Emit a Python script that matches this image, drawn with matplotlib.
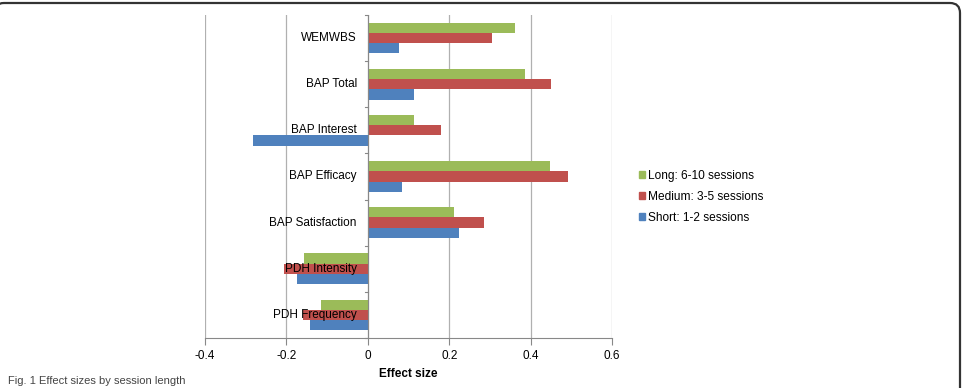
import matplotlib

matplotlib.use("Agg")
import matplotlib.pyplot as plt
import numpy as np
from matplotlib.patches import FancyBboxPatch, Patch

# outcome measures, bottom to top
categories = ["PDH Frequency", "PDH Intensity", "BAP Satisfaction", "BAP Efficacy",
              "BAP Interest", "BAP Total", "WEMWBS"]
short_vals = [-0.141, -0.174, 0.224, 0.084, -0.282, 0.114, 0.077]
medium_vals = [-0.160, -0.206, 0.286, 0.493, 0.181, 0.451, 0.304]
long_vals = [-0.115, -0.157, 0.211, 0.448, 0.114, 0.386, 0.361]
series_labels = ["Short: 1-2 sessions", "Medium: 3-5 sessions", "Long: 6-10 sessions"]
x_ticks = [-0.4, -0.2, 0, 0.2, 0.4, 0.6]
x_ticklabels = ["-0.4", "-0.2", "0", "0.2", "0.4", "0.6"]

colors = ["#4F81BD", "#C0504D", "#9BBB59"]

plt.rcParams["font.family"] = ["Liberation Sans", "DejaVu Sans"]

fig = plt.figure(figsize=(9.63, 3.88), dpi=100)
ax = fig.add_axes([0.2129, 0.1289, 0.4226, 0.8325])

n = len(categories)
y = np.arange(n)
h = 1 / 4.5
for i, (vals, c) in enumerate(zip([short_vals, medium_vals, long_vals], colors)):
    ax.barh(y + (i - 1) * h, vals, height=h, color=c, zorder=2)

ax.set_xlim(-0.4, 0.6)
ax.set_ylim(-0.5, n - 0.5)
ax.set_xticks(x_ticks)
ax.set_xticklabels(x_ticklabels, fontsize=8.5)
ax.grid(axis="x", color="#b0b0b0", linewidth=0.9, zorder=0)
ax.set_axisbelow(True)

# category axis at zero with ticks at band boundaries
for s in ["top", "right", "left"]:
    ax.spines[s].set_visible(False)
ax.spines["bottom"].set_color("#888888")
ax.tick_params(axis="x", colors="#888888", labelcolor="black", length=5, width=0.8, pad=4)
ax.set_yticks([])
ax.axvline(0, color="#888888", linewidth=0.8, zorder=3)
for b in np.arange(-0.5, n, 1.0):
    ax.plot([-0.008, 0], [b, b], color="#888888", linewidth=0.8, zorder=3, clip_on=False)
for yi, lab in zip(y, categories):
    ax.text(-0.027, yi, lab, ha="right", va="center", fontsize=8.5, zorder=4)

ax.set_xlabel("Effect size", fontsize=8.5, fontweight="bold", labelpad=4)

handles = [Patch(color=c) for c in colors][::-1]
fig.legend(handles, series_labels[::-1], loc="center left", bbox_to_anchor=(0.652, 0.493),
           frameon=False, fontsize=8.6, handlelength=0.5, handleheight=0.5,
           handletextpad=0.3, labelspacing=0.75)

# rounded frame around the figure panel (in inches), left/bottom edges fall outside
frame = FancyBboxPatch((-0.06, -1.0), 9.66, 4.85, boxstyle="round,pad=0,rounding_size=0.1",
                       transform=fig.dpi_scale_trans, fill=False, edgecolor="#333333",
                       linewidth=1.6)
fig.patches.append(frame)

fig.text(0.008, 0.004, "Fig. 1 Effect sizes by session length", fontsize=8,
         va="bottom", ha="left", color="#444444")

fig.savefig("out.png", dpi=100)
